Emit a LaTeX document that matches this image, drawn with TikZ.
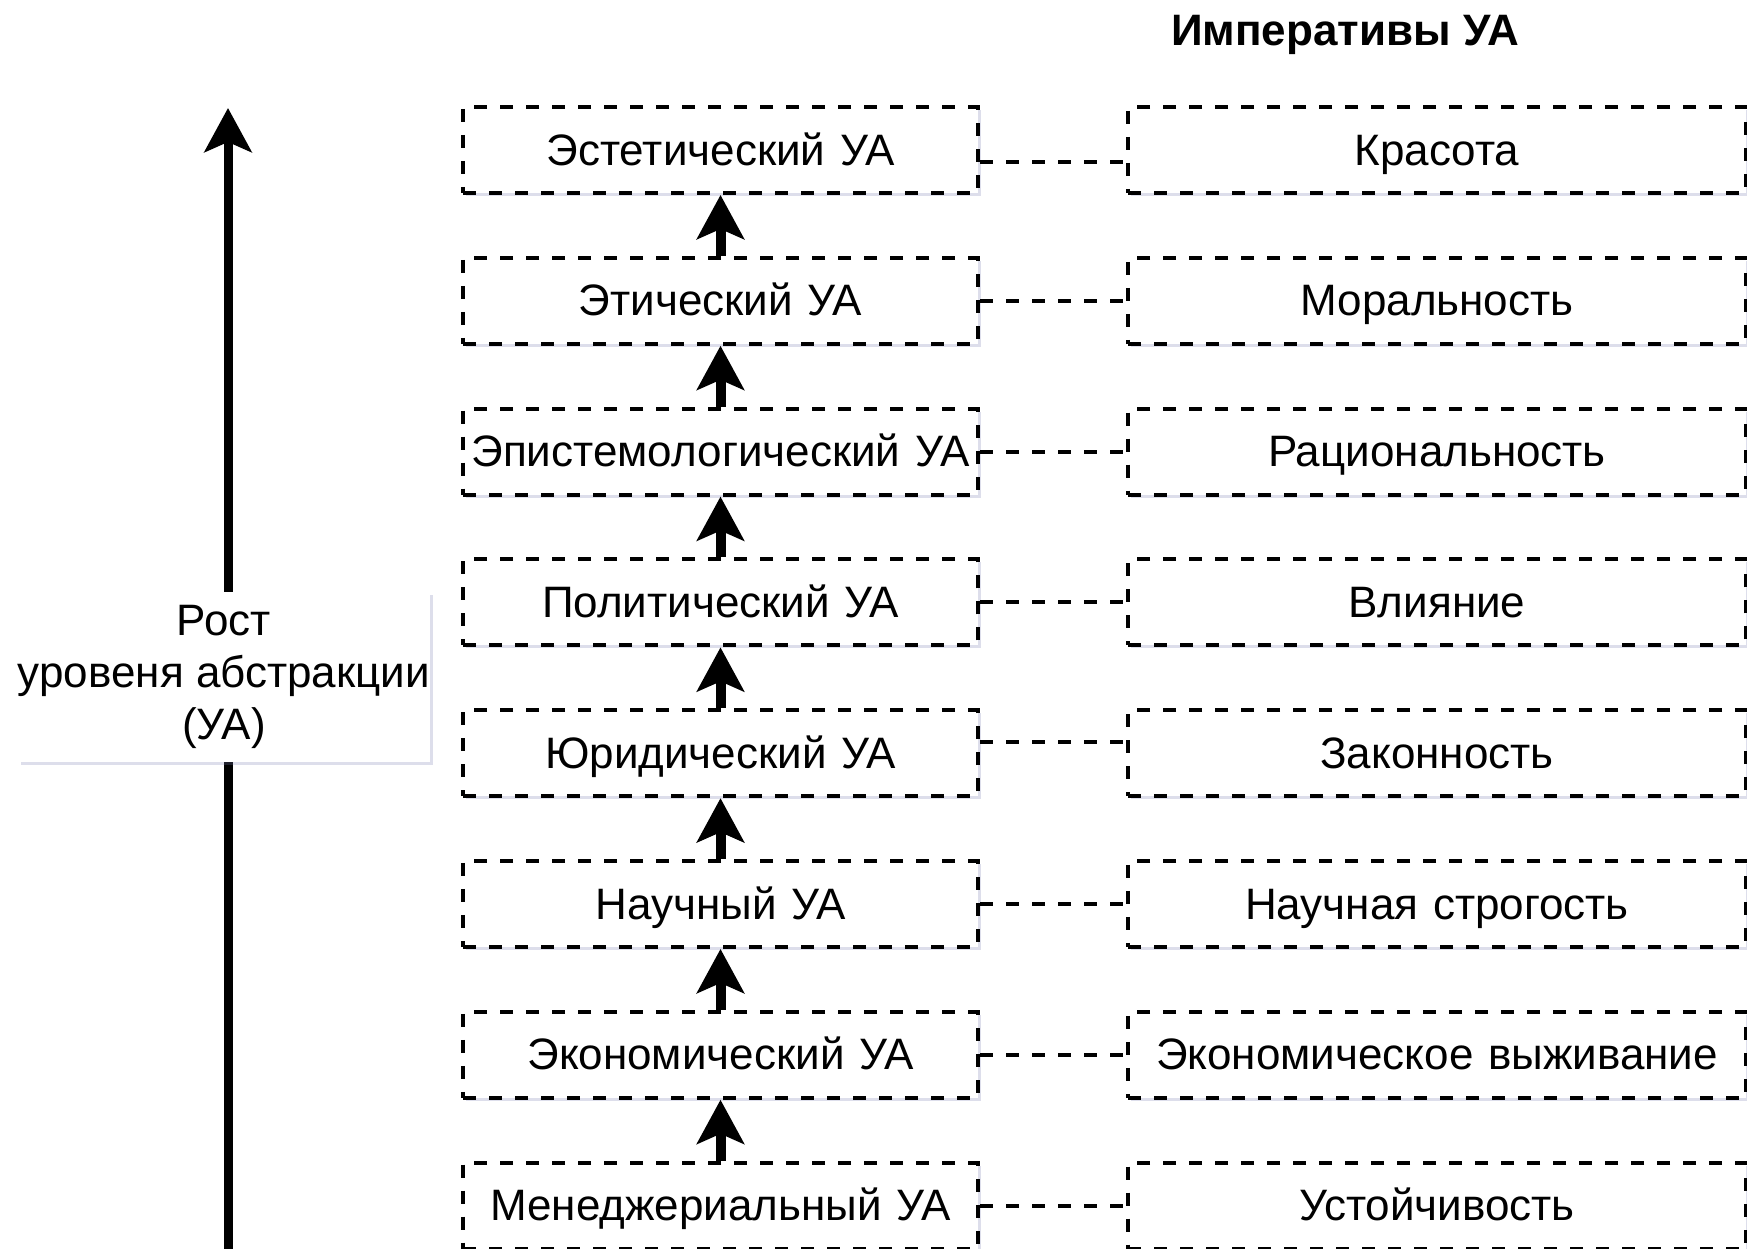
\documentclass[tikz,border=0pt]{standalone}
\usepackage{fontspec}
\setmainfont{Liberation Sans}
\usetikzlibrary{positioning,arrows.meta,shadows}
\definecolor{shadowBlue}{RGB}{120,125,175}

\begin{document}
\begin{tikzpicture}[>={Stealth[length=11pt,width=11.75pt,inset=2.5pt]},
                    font=\fontsize{11}{13}\selectfont]

    %
    % Styles for levels, imperatives and links
    %
    \tikzstyle{level} = [draw, line width=1pt, dash pattern=on 3.25pt off 3.25pt, rectangle,
                         fill=white, minimum height=21.5pt, text width=128.75pt, inner xsep=0pt,
                         text height=8pt, text depth=0.4pt,
                         align=center, node distance=15.2pt,
                         drop shadow={opacity=0.25, shadow xshift=0.75pt, shadow yshift=-0.75pt, fill=shadowBlue}]
    \tikzstyle{imperative} = [level, text width=154.5pt]
    \tikzstyle{levelFlow} = [black, line width=2.5pt, ->];
    \tikzstyle{pairLink} = [black, line width=1pt, dash pattern=on 3.25pt off 3.25pt];
    \tikzstyle{axisLabel} = [rectangle, fill=white, align=center, minimum width=103pt, inner xsep=0pt,
                             minimum height=37.5pt,
                             drop shadow={opacity=0.25, shadow xshift=0.75pt, shadow yshift=-0.75pt, fill=shadowBlue}]
    \tikzstyle{header} = [font={\fontsize{11}{13}\selectfont\bfseries}]

    \useasboundingbox (0,0) rectangle (436.75pt,-312.25pt);

    %
    % Axis of growth
    %
    \coordinate (axisBottom) at (57pt,-330pt);
    \coordinate (axisTop) at (57pt,-27pt);
    \draw[levelFlow, line width=2.25pt] (axisBottom) -- (axisTop);
    \node[axisLabel, name=growth] at (56pt,-169.25pt) {Рост\\уровеня абстракции\\(УА)};

    %
    % Position levels
    %
    \node[level, name=aesthetic] at (180.125pt,-37.5pt) {Эстетический УА};
    \node[level, name=ethical, below = of aesthetic] {Этический УА};
    \node[level, name=epistemic, below = of ethical] {Эпистемологический УА};
    \node[level, name=political, below = of epistemic] {Политический УА};
    \node[level, name=legal, below = of political] {Юридический УА};
    \node[level, name=scientific, below = of legal] {Научный УА};
    \node[level, name=economic, below = of scientific] {Экономический УА};
    \node[level, name=managerial, below = of economic] {Менеджериальный УА};

    %
    % Position imperatives
    %
    \node[header, name=title] at (336.25pt,-8.75pt) {Императивы УА};
    \node[imperative, name=beauty, right = 36.5pt of aesthetic] {Красота};
    \node[imperative, name=morality, right = 36.5pt of ethical] {Моральность};
    \node[imperative, name=rationality, right = 36.5pt of epistemic] {Рациональность};
    \node[imperative, name=influence, right = 36.5pt of political] {Влияние};
    \node[imperative, name=legality, right = 36.5pt of legal] {Законность};
    \node[imperative, name=rigor, right = 36.5pt of scientific] {Научная строгость};
    \node[imperative, name=survival, right = 36.5pt of economic] {Экономическое выживание};
    \node[imperative, name=stability, right = 36.5pt of managerial] {Устойчивость};

    %
    % Connect levels upwards
    %
    \draw (managerial) edge[levelFlow] (economic);
    \draw (economic) edge[levelFlow] (scientific);
    \draw (scientific) edge[levelFlow] (legal);
    \draw (legal) edge[levelFlow] (political);
    \draw (political) edge[levelFlow] (epistemic);
    \draw (epistemic) edge[levelFlow] (ethical);
    \draw (ethical) edge[levelFlow] (aesthetic);

    %
    % Link levels to imperatives
    %
    \draw ([yshift=-3pt]aesthetic.east) edge[pairLink] ([yshift=-3pt]beauty.west);
    \draw (ethical) edge[pairLink] (morality);
    \draw (epistemic) edge[pairLink] (rationality);
    \draw (political) edge[pairLink] (influence);
    \draw ([yshift=2.75pt]legal.east) edge[pairLink] ([yshift=2.75pt]legality.west);
    \draw (scientific) edge[pairLink] (rigor);
    \draw (economic) edge[pairLink] (survival);
    \draw (managerial) edge[pairLink] (stability);
\end{tikzpicture}
\end{document}
